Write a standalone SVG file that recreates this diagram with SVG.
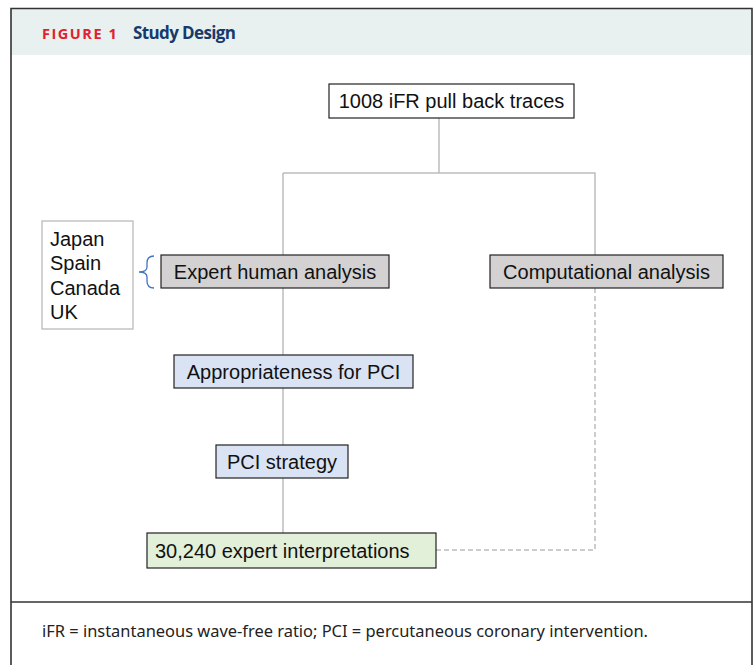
<svg xmlns="http://www.w3.org/2000/svg" width="756" height="665" viewBox="0 0 756 665">
<style>
.t{font-family:"Liberation Sans",Arial,sans-serif;font-size:20px;fill:#111}
.box{stroke:#222;stroke-width:1.2}
.conn{stroke:#bdbdbd;stroke-width:1.5;fill:none}
.dash{stroke:#bdbdbd;stroke-width:1.5;fill:none;stroke-dasharray:5 3}
</style>
<rect x="0" y="0" width="756" height="665" fill="#fff"/>
<g id="frame">
<rect x="11" y="9" width="741" height="46" fill="#e8f1f0"/>
<path d="M11,672 V8.5 H752 V672" fill="none" stroke="#333" stroke-width="1.6"/>
<line x1="11" y1="602" x2="752" y2="602" stroke="#333" stroke-width="1.6"/>
<text x="42" y="39" font-family="'Open Sans','Noto Sans',sans-serif" font-weight="bold" font-size="14.5" letter-spacing="1.3" fill="#e3202f" textLength="76">FIGURE 1</text>
<text x="133" y="39" font-family="'Open Sans','Noto Sans',sans-serif" font-weight="bold" font-size="17" fill="#173a6a" textLength="103">Study Design</text>
<text x="42" y="637" font-family="'Noto Sans','Open Sans',sans-serif" font-size="17" fill="#222" textLength="606" lengthAdjust="spacingAndGlyphs">iFR = instantaneous wave-free ratio; PCI = percutaneous coronary intervention.</text>
</g>
<g id="connectors">
<path class="conn" d="M439,118 V173 M283,173 H595 V255 M283,173 V533"/>
<path class="dash" d="M595,288 V550 H436"/>
<path d="M154,256 Q147,256 147,263 V267 Q147,272 139,272 Q147,272 147,277 V281 Q147,288 154,288" fill="none" stroke="#4472c4" stroke-width="1.3"/>
</g>
<g id="traces">
<rect class="box" x="329" y="84" width="245" height="34" fill="#fff"/>
<text class="t" x="451.5" y="108" text-anchor="middle">1008 iFR pull back traces</text>
</g>
<g id="countries">
<rect x="42" y="221" width="91" height="108" fill="#fff" stroke="#bbb" stroke-width="1.3"/>
<text class="t" x="50" y="246">Japan</text>
<text class="t" x="50" y="270">Spain</text>
<text class="t" x="50" y="295">Canada</text>
<text class="t" x="50" y="319">UK</text>
</g>
<g id="expert">
<rect class="box" x="161" y="255" width="228" height="33" fill="#d3d1d2"/>
<text class="t" x="275" y="279" text-anchor="middle">Expert human analysis</text>
</g>
<g id="computational">
<rect class="box" x="490" y="255" width="233" height="33" fill="#d3d1d2"/>
<text class="t" x="606.5" y="279" text-anchor="middle">Computational analysis</text>
</g>
<g id="appropriateness">
<rect class="box" x="174" y="355" width="239" height="33" fill="#dae3f3"/>
<text class="t" x="293.5" y="379" text-anchor="middle">Appropriateness for PCI</text>
</g>
<g id="strategy">
<rect class="box" x="216" y="445" width="132" height="33" fill="#dae3f3"/>
<text class="t" x="282" y="469" text-anchor="middle">PCI strategy</text>
</g>
<g id="interpretations">
<rect class="box" x="147" y="533" width="289" height="35" fill="#e2efd9"/>
<text class="t" x="155" y="558">30,240 expert interpretations</text>
</g>
</svg>
